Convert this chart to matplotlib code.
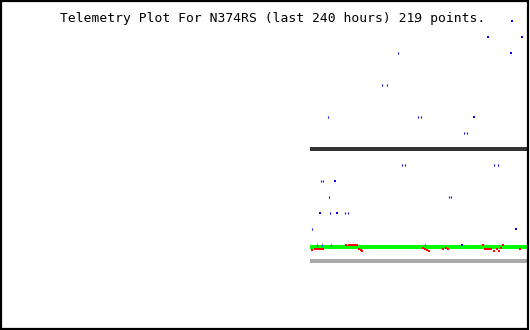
import matplotlib
matplotlib.use("Agg")
import matplotlib.pyplot as plt
from matplotlib.patches import Rectangle

title = "Telemetry Plot For N374RS (last 240 hours) 219 points."

# hours ago (negative) and value levels
blue_big_x = [-8.2, -19.0, -3.6, -8.6, -25.4, -88.3, -95.1, -87.4, -6.3, -30.8]
blue_big_y = [14, 13, 13, 12, 8, 4, 2, 2, 1, 0]

blue_small_x = [-59.8, -67.0, -64.8, -91.5, -50.7, -49.4, -29.9, -28.5, -52.1,
                -58.0, -56.6, -16.3, -14.5, -94.6, -93.7, -91.0, -36.7, -35.8,
                -90.6, -83.8, -82.4, -98.7, -96.4, -94.2, -90.1, -47.6]
blue_small_y = [12, 10, 10, 8, 8, 8, 7, 7, 14,
                5, 5, 5, 5, 4, 4, 3, 3, 3,
                2, 2, 2, 1, 0, 0, 0, 0]

red_x = [-98.7, -97.4, -96.4, -95.5, -94.6, -93.7, -83.3, -82.0, -81.1, -80.2,
         -79.3, -78.3, -77.4, -76.5, -76.1, -48.5, -47.6, -46.6, -45.7, -39.4,
         -38.0, -37.1, -21.3, -20.4, -19.5, -18.6, -17.7, -16.3, -14.9, -14.0,
         -13.1, -12.2, -4.5]
red_y = [-0.36, -0.24, -0.24, -0.24, -0.24, -0.24, -0.05, -0.05, -0.05, -0.05,
         -0.05, -0.05, -0.27, -0.33, -0.39, -0.2, -0.27, -0.33, -0.39, -0.27,
         -0.2, -0.27, -0.05, -0.25, -0.25, -0.29, -0.29, -0.38, -0.29, -0.38,
         -0.2, -0.04, -0.29]

t_start, t_end = -99.6, -0.8
black_level = 6.0
green_level = -0.12
gray_level = -1.0

plt.rcParams['lines.antialiased'] = False
fig = plt.figure(figsize=(5.3, 3.3), dpi=100)
ax = fig.add_axes([0, 0, 1, 1])
ax.set_xlim(-240, 0)
ax.set_ylim(-5.33, 15.29)
ax.axis('off')

ax.plot([t_start, t_end], [black_level] * 2, color='#333333', lw=1.5, solid_capstyle='butt')
ax.plot([t_start, t_end], [gray_level] * 2, color='#aaaaaa', lw=1.5, solid_capstyle='butt')
ax.plot([t_start, t_end], [green_level] * 2, color='#00ff00', lw=1.5, solid_capstyle='butt', zorder=3)
ax.plot(red_x, red_y, 's', color='#ff0000', ms=1.8, mew=0, zorder=4)
ax.plot(blue_small_x, blue_small_y, '|', color='#0000ff', ms=1.6, mew=0.8, zorder=5)
ax.plot(blue_big_x, blue_big_y, 's', color='#0000ff', ms=1.8, mew=0, zorder=5)

ax.text(60 / 530, 1 - 22 / 330, title, family='DejaVu Sans Mono', fontsize=9.4,
        ha='left', va='baseline', transform=fig.transFigure, zorder=1)

fig.patches.append(Rectangle((0.001, 0.002), 0.996, 0.996, transform=fig.transFigure,
                             fill=False, edgecolor='black', lw=1.6))

fig.savefig("out.png", dpi=100)
